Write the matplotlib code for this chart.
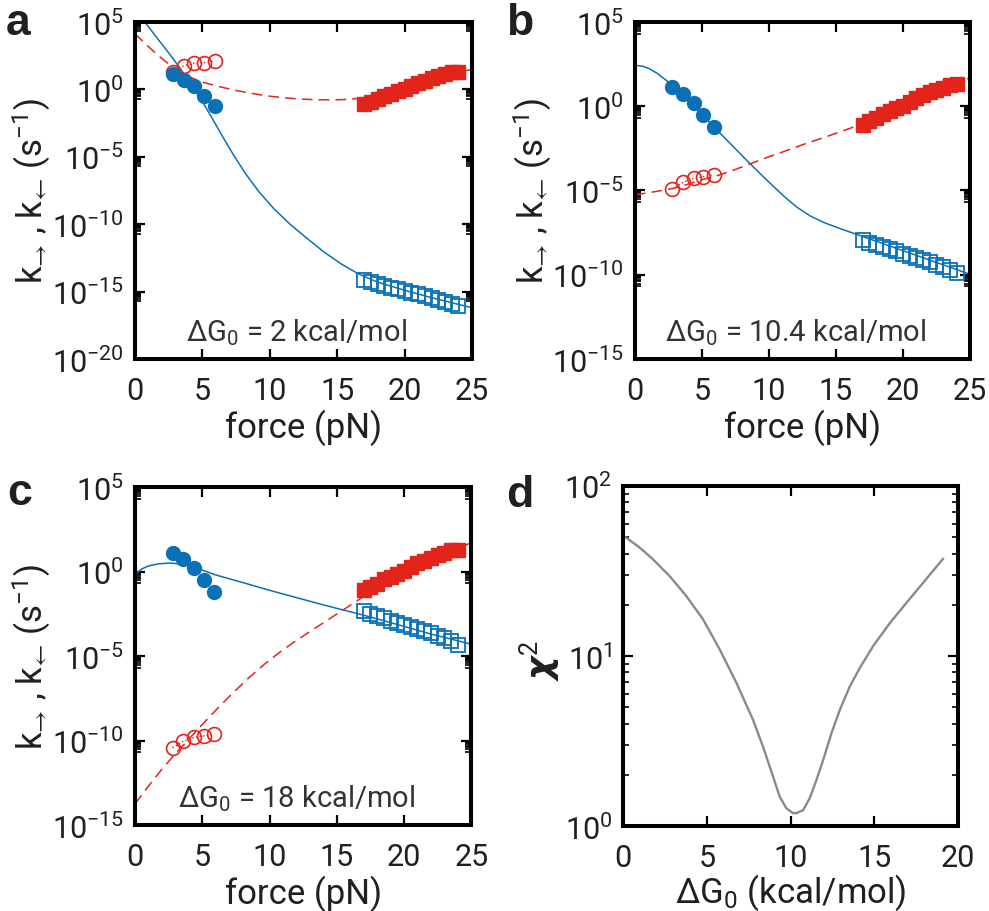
import numpy as np
import matplotlib
matplotlib.use('Agg')
import matplotlib.pyplot as plt
from matplotlib.ticker import FixedLocator, FuncFormatter, NullFormatter, LogLocator

plt.rcParams['font.family'] = ['Roboto', 'DejaVu Sans']
plt.rcParams['mathtext.default'] = 'regular'

BLUE = '#0a71b7'
RED = '#e3241b'
INK = '#231f20'
GREY = '#8c8893'

# measured rates (log10 of k, s^-1)
force_low = [2.8, 3.6, 4.4, 5.1, 5.9]
force_high = [17.0, 17.5, 18.0, 18.5, 19.0, 19.5, 20.0, 20.5,
              21.0, 21.5, 22.0, 22.5, 23.0, 23.5, 24.0]
logk_fwd_low = [1.12, 0.72, 0.22, -0.51, -1.21]
logk_rev_high = [-1.10, -0.90, -0.71, -0.47, -0.31, -0.12, 0.04, 0.24,
                 0.48, 0.64, 0.82, 0.98, 1.11, 1.27, 1.30]

# rates inferred for each dG0
logk_rev_low_a = [1.30, 1.74, 1.94, 1.99, 2.09]
logk_rev_low_b = [-4.90, -4.52, -4.28, -4.18, -4.09]
logk_rev_low_c = [-10.43, -10.04, -9.82, -9.73, -9.60]

logk_fwd_high_a = [-14.15, -14.30, -14.45, -14.58, -14.70, -14.82, -14.95, -15.08,
                   -15.20, -15.33, -15.46, -15.60, -15.75, -15.90, -16.08]
logk_fwd_high_b = [-7.95, -8.10, -8.25, -8.38, -8.50, -8.62, -8.75, -8.88,
                   -9.00, -9.13, -9.26, -9.40, -9.55, -9.72, -9.92]
logk_fwd_high_c = [-2.35, -2.50, -2.64, -2.77, -2.90, -3.02, -3.15, -3.28,
                   -3.40, -3.53, -3.66, -3.80, -3.95, -4.12, -4.32]

# model curves
fit_fwd_force_a = [0.5, 0.74, 1.6, 2.35, 2.72, 3.5, 4.3, 5.0, 5.7, 6.5, 7.3, 8.2, 9.2,
                   10.3, 11.5, 12.7, 14.0, 15.3, 16.6, 18.0, 20.0, 22.0, 25.0]
fit_fwd_logk_a = [5.3, 4.98, 3.86, 2.9, 2.42, 1.35, 0.2, -0.9, -2.1, -3.5, -4.85, -6.25, -7.6,
                  -8.85, -10.0, -11.0, -12.05, -12.95, -13.7, -14.3, -14.9, -15.45, -16.2]
fit_rev_force_a = [0.0, 0.7, 1.4, 2.1, 2.8, 3.6, 4.8, 6.06, 7.3, 8.54, 9.78, 11.0, 12.25,
                   13.5, 14.73, 15.6, 16.46, 18.0, 20.0, 22.0, 25.0]
fit_rev_logk_a = [4.12, 3.45, 2.8, 2.2, 1.65, 1.12, 0.6, 0.25, -0.04, -0.28, -0.48, -0.62, -0.72,
                  -0.77, -0.78, -0.75, -0.68, -0.42, 0.12, 0.7, 1.5]

fit_fwd_force_b = [0.0, 0.6, 1.1, 1.7, 2.4, 2.9, 3.6, 4.4, 5.1, 5.9, 6.6, 7.4, 8.6, 9.5,
                   10.3, 11.2, 12.1, 13.1, 14.1, 15.3, 16.6, 18.0, 20.0, 22.0, 25.0]
fit_fwd_logk_b = [2.43, 2.37, 2.22, 1.93, 1.5, 1.13, 0.62, 0.02, -0.55, -1.22, -1.8, -2.45, -3.42,
                  -4.12, -4.73, -5.4, -6.0, -6.52, -6.9, -7.26, -7.62, -8.01, -8.57, -9.13, -9.97]
fit_rev_force_b = [0.0, 0.9, 2.0, 2.9, 4.0, 5.0, 6.3, 7.5, 8.6, 10.0, 11.6, 12.8, 14.1,
                   15.3, 16.6, 18.0, 20.0, 22.0, 23.5, 25.0]
fit_rev_logk_b = [-5.25, -5.15, -5.0, -4.87, -4.62, -4.36, -4.08, -3.75, -3.42, -3.0, -2.55, -2.2,
                  -1.86, -1.52, -1.16, -0.72, -0.08, 0.6, 1.12, 1.7]

fit_fwd_force_c = [0.0, 0.5, 1.0, 1.8, 2.6, 3.4, 4.2, 5.0, 6.0, 7.1, 8.3, 9.6, 11.0,
                   12.4, 13.8, 15.2, 16.5, 18.0, 20.0, 22.0, 25.0]
fit_fwd_logk_c = [-0.2, 0.15, 0.33, 0.46, 0.5, 0.45, 0.3, 0.08, -0.2, -0.45, -0.72, -1.02, -1.33,
                  -1.63, -1.93, -2.22, -2.48, -2.8, -3.25, -3.7, -4.3]
fit_rev_force_c = [0.0, 1.0, 2.1, 3.1, 4.2, 5.3, 6.2, 7.1, 8.3, 9.6, 10.8, 12.0, 13.3,
                   14.5, 15.5, 16.5, 18.0, 20.0, 22.0, 25.0]
fit_rev_logk_c = [-13.75, -12.7, -11.6, -10.7, -9.75, -8.8, -8.05, -7.33, -6.4, -5.5, -4.75, -4.08,
                  -3.4, -2.78, -2.26, -1.74, -0.95, -0.05, 0.75, 1.7]

# chi-square scan over dG0
dg0_scan = [0, 0.96, 1.76, 2.76, 3.76, 4.76, 5.76, 6.76, 7.75, 8.35, 8.95, 9.35, 9.75,
            10.15, 10.35, 10.75, 11.15, 11.55, 11.95, 12.45, 12.95, 13.55, 14.15,
            14.95, 15.95, 16.95, 17.94, 19.1]
chi2_scan = [51.1, 43.6, 37.2, 29.6, 22.6, 16.5, 10.96, 6.97, 4.23, 2.94, 1.96, 1.49, 1.27,
             1.19, 1.19, 1.24, 1.46, 1.87, 2.45, 3.53, 4.84, 6.65, 8.55,
             11.5, 15.7, 20.7, 27.1, 37.2]

panels = [
    dict(name='a', lo=-20, dg='2', rev_low=logk_rev_low_a, fwd_high=logk_fwd_high_a,
         ff=fit_fwd_force_a, fk=fit_fwd_logk_a, rf=fit_rev_force_a, rk=fit_rev_logk_a,
         rect=[0.1365, 0.6053, 0.3407, 0.3695]),
    dict(name='b', lo=-15, dg='10.4', rev_low=logk_rev_low_b, fwd_high=logk_fwd_high_b,
         ff=fit_fwd_force_b, fk=fit_fwd_logk_b, rf=fit_rev_force_b, rk=fit_rev_logk_b,
         rect=[0.642, 0.6053, 0.3387, 0.3695]),
    dict(name='c', lo=-15, dg='18', rev_low=logk_rev_low_c, fwd_high=logk_fwd_high_c,
         ff=fit_fwd_force_c, fk=fit_fwd_logk_c, rf=fit_rev_force_c, rk=fit_rev_logk_c,
         rect=[0.1365, 0.0943, 0.340, 0.3706]),
]

SPINE_W = 2.9
TICK_FS = 22
LABEL_FS = 25


def pow10(v):
    return np.power(10.0, np.asarray(v, dtype=float))


def frame(ax):
    for s in ax.spines.values():
        s.set_linewidth(SPINE_W)
        s.set_color('black')
    ax.tick_params(which='both', direction='in', top=True, right=True,
                   labelsize=TICK_FS, labelcolor=INK, color='black')
    ax.tick_params(which='major', length=7, width=1.6, pad=8)
    ax.tick_params(axis='x', which='major', pad=12)
    ax.tick_params(which='minor', length=4, width=1.2)


fig = plt.figure(figsize=(9.89, 9.12), dpi=100)

for p in panels:
    ax = fig.add_axes(p['rect'])
    ax.set_yscale('log')

    ax.plot(p['ff'], pow10(p['fk']), color=BLUE, lw=1.1, zorder=2)
    ax.plot(p['rf'], pow10(p['rk']), color=RED, lw=1.1, dashes=(7, 4), zorder=2)

    ax.plot(force_low, pow10(p['rev_low']), marker='o', ls=':', lw=1.0, color=RED,
            mfc='none', mec=RED, ms=10, mew=1.2, zorder=3)
    ax.plot(force_low, pow10(logk_fwd_low), 'o', color=BLUE, ms=10, zorder=3)
    ax.plot(force_high, pow10(logk_rev_high), 's', color=RED, ms=10, zorder=3)
    ax.plot(force_high, pow10(p['fwd_high']), 's', mfc='none', mec=BLUE, ms=10,
            mew=1.3, zorder=3)

    ax.set_xlim(0, 25)
    ax.set_ylim(10.0 ** p['lo'], 1e5)
    majors = list(range(p['lo'], 6, 5))
    ax.yaxis.set_major_locator(FixedLocator([10.0 ** k for k in majors]))
    ax.yaxis.set_minor_locator(FixedLocator([m * 10.0 ** (k - 1) for k in majors
                                             for m in range(2, 10)]))
    ax.yaxis.set_major_formatter(FuncFormatter(
        lambda v, pos: r'$10^{%d}$' % int(round(np.log10(v)))))
    ax.yaxis.set_minor_formatter(NullFormatter())
    ax.set_xticks([0, 5, 10, 15, 20, 25])
    frame(ax)

    ax.set_xlabel('force (pN)', fontsize=LABEL_FS, color=INK, va='center')
    ax.xaxis.set_label_coords(0.5, -0.2)
    ax.set_ylabel('k$_{\u2192}$ , k$_{\u2190}$ (s$^{-1}$)', fontsize=LABEL_FS,
                  color=INK, va='center')
    ax.yaxis.set_label_coords(-0.305, 0.5)

    ax.text(0.48, 0.08, r'$\Delta G_0$ = %s kcal/mol' % p['dg'], transform=ax.transAxes,
            ha='center', va='center', fontsize=21, color='#333333')

# chi-square panel
axd = fig.add_axes([0.630, 0.0932, 0.3387, 0.373])
axd.set_yscale('log')
axd.plot(dg0_scan, chi2_scan, color=GREY, lw=1.7)
axd.set_xlim(0, 20)
axd.set_ylim(1, 100)
axd.set_xticks([0, 5, 10, 15, 20])
axd.yaxis.set_major_locator(FixedLocator([1, 10, 100]))
axd.yaxis.set_minor_locator(LogLocator(base=10, subs=range(2, 10)))
axd.yaxis.set_major_formatter(FuncFormatter(
    lambda v, pos: r'$10^{%d}$' % int(round(np.log10(v)))))
axd.yaxis.set_minor_formatter(NullFormatter())
frame(axd)
axd.set_xlabel(r'$\Delta G_0$ (kcal/mol)', fontsize=LABEL_FS, color=INK, va='center')
axd.xaxis.set_label_coords(0.5, -0.195)
axd.set_ylabel(r'$\boldsymbol{\chi}^{2}$', fontsize=26, color=INK, va='center')
axd.yaxis.set_label_coords(-0.25, 0.49)

for letter, x, y in [('a', 0.006, 0.962), ('b', 0.512, 0.962),
                     ('c', 0.007, 0.446), ('d', 0.512, 0.444)]:
    fig.text(x, y, letter, fontsize=32, fontweight='bold', color=INK,
             family=['Liberation Sans', 'DejaVu Sans'], ha='left', va='baseline')

fig.savefig('out.png', dpi=100)
